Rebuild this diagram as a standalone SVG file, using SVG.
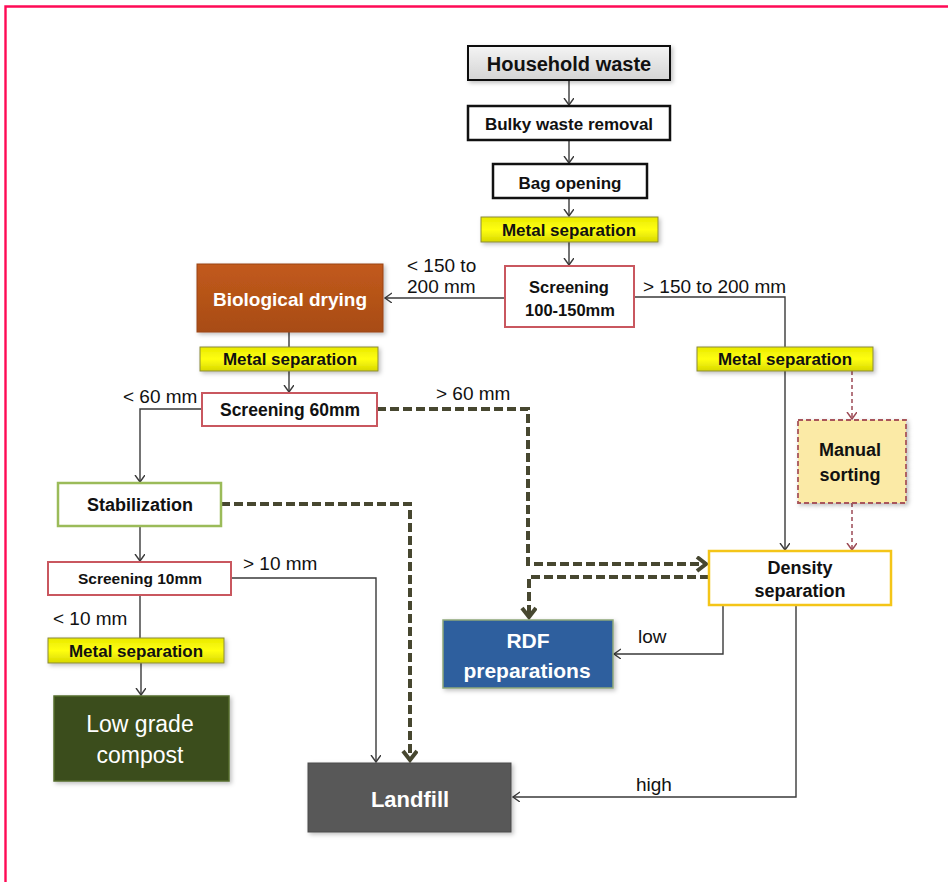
<svg xmlns="http://www.w3.org/2000/svg" width="948" height="882" viewBox="0 0 948 882">
<style>
  .t{font-family:"Liberation Sans",Arial,sans-serif;font-weight:bold;fill:#111;text-anchor:middle}
  .w{fill:#fff}
  .lbl{font-family:"Liberation Sans",Arial,sans-serif;font-size:19px;fill:#111}
  .c{fill:none;stroke:#3a3a3a;stroke-width:1.4}
  .d{fill:none;stroke:#474730;stroke-width:4;stroke-dasharray:9 4}
  .r{fill:none;stroke:#9c4a55;stroke-width:1.5;stroke-dasharray:4 3}
  .metal{fill:url(#gy);stroke:#8a8a3a;stroke-width:1}
  .scr{fill:#fff;stroke:#c9575f;stroke-width:2}
</style>
<defs>
  <linearGradient id="gy" x1="0" y1="0" x2="0" y2="1">
    <stop offset="0" stop-color="#e9e900"/>
    <stop offset="0.5" stop-color="#ffff10"/>
    <stop offset="1" stop-color="#d8d800"/>
  </linearGradient>
  <linearGradient id="gg" x1="0" y1="0" x2="0" y2="1">
    <stop offset="0" stop-color="#f4f4f4"/>
    <stop offset="1" stop-color="#d4d4d4"/>
  </linearGradient>
  <linearGradient id="gb" x1="0" y1="0" x2="0" y2="1">
    <stop offset="0" stop-color="#c25a1c"/>
    <stop offset="1" stop-color="#a84c14"/>
  </linearGradient>
  <filter id="sh" x="-10%" y="-10%" width="130%" height="140%">
    <feDropShadow dx="2" dy="2" stdDeviation="2" flood-color="#000" flood-opacity="0.25"/>
  </filter>
  <marker id="a" markerUnits="userSpaceOnUse" markerWidth="14" markerHeight="14" refX="7" refY="5" orient="auto">
    <path d="M0,0 L7,5 L0,10" fill="none" stroke="#3a3a3a" stroke-width="1.4"/>
  </marker>
  <marker id="ar" markerUnits="userSpaceOnUse" markerWidth="14" markerHeight="14" refX="7" refY="5" orient="auto">
    <path d="M0,0 L7,5 L0,10" fill="none" stroke="#9c4a55" stroke-width="1.5"/>
  </marker>
  <marker id="ad" markerUnits="userSpaceOnUse" markerWidth="20" markerHeight="22" refX="11" refY="8" orient="auto">
    <path d="M2,1 L11,8 L2,15" fill="none" stroke="#474730" stroke-width="4"/>
  </marker>
</defs>

<rect x="0" y="0" width="948" height="882" fill="#fff"/>
<path d="M5.5,882 V6.5 H948" fill="none" stroke="#ff0a55" stroke-width="2.4"/>

<g id="connectors">
  <path class="c" d="M569,80 V105" marker-end="url(#a)"/>
  <path class="c" d="M569,140 V163" marker-end="url(#a)"/>
  <path class="c" d="M569,198 V216" marker-end="url(#a)"/>
  <path class="c" d="M569,242 V265" marker-end="url(#a)"/>
  <path class="c" d="M505,298 H385" marker-end="url(#a)"/>
  <path class="c" d="M634,297 H785 V550" marker-end="url(#a)"/>
  <path class="c" d="M289,332 V347"/>
  <path class="c" d="M289,371 V392" marker-end="url(#a)"/>
  <path class="c" d="M202,409 H140 V482" marker-end="url(#a)"/>
  <path class="c" d="M140,526 V561" marker-end="url(#a)"/>
  <path class="c" d="M231,578 H376 V762" marker-end="url(#a)"/>
  <path class="c" d="M140,595 V638"/>
  <path class="c" d="M141,663 V695" marker-end="url(#a)"/>
  <path class="c" d="M723,605 V654 H614" marker-end="url(#a)"/>
  <path class="c" d="M796,605 V797 H513" marker-end="url(#a)"/>
  <path class="r" d="M852,371 V419" marker-end="url(#ar)"/>
  <path class="r" d="M852,503 V550" marker-end="url(#ar)"/>
  <path class="d" d="M377,409 H528 V564 H706" marker-end="url(#ad)"/>
  <path class="d" d="M709,577 H529 V617" marker-end="url(#ad)"/>
  <path class="d" d="M221,504 H410 V760" marker-end="url(#ad)"/>
</g>

<g id="labels">
  <text class="lbl" x="407" y="272">&lt; 150 to</text>
  <text class="lbl" x="407" y="293">200 mm</text>
  <text class="lbl" x="643" y="293">&gt; 150 to 200 mm</text>
  <text class="lbl" x="123" y="403">&lt; 60 mm</text>
  <text class="lbl" x="436" y="400">&gt; 60 mm</text>
  <text class="lbl" x="243" y="570">&gt; 10 mm</text>
  <text class="lbl" x="53" y="625">&lt; 10 mm</text>
  <text class="lbl" x="638" y="643">low</text>
  <text class="lbl" x="636" y="791">high</text>
</g>

<g id="household-waste">
  <rect x="468" y="46" width="202" height="34" fill="url(#gg)" stroke="#111" stroke-width="2" filter="url(#sh)"/>
  <text class="t" x="569" y="71" font-size="20">Household waste</text>
</g>
<g id="bulky-waste-removal">
  <rect x="468" y="106" width="202" height="34" fill="#fff" stroke="#111" stroke-width="2.5"/>
  <text class="t" x="569" y="130" font-size="17">Bulky waste removal</text>
</g>
<g id="bag-opening">
  <rect x="493" y="164" width="154" height="34" fill="#fff" stroke="#111" stroke-width="2.5"/>
  <text class="t" x="570" y="189" font-size="17">Bag opening</text>
</g>
<g id="metal-separation-1">
  <rect class="metal" x="481" y="217" width="177" height="25" filter="url(#sh)"/>
  <text class="t" x="569" y="236" font-size="17">Metal separation</text>
</g>
<g id="screening-100-150">
  <rect class="scr" x="505" y="266" width="129" height="61"/>
  <text class="t" x="569" y="293" font-size="16.5">Screening</text>
  <text class="t" x="570" y="316" font-size="16.5">100-150mm</text>
</g>
<g id="biological-drying">
  <rect x="197" y="264" width="186" height="68" fill="url(#gb)" stroke="#9a4512" stroke-width="1" filter="url(#sh)"/>
  <text class="t w" x="290" y="306" font-size="19">Biological drying</text>
</g>
<g id="metal-separation-2">
  <rect class="metal" x="200" y="347" width="178" height="24" filter="url(#sh)"/>
  <text class="t" x="290" y="365" font-size="17">Metal separation</text>
</g>
<g id="screening-60">
  <rect class="scr" x="202" y="393" width="175" height="33"/>
  <text class="t" x="290" y="416" font-size="17.5">Screening 60mm</text>
</g>
<g id="metal-separation-3">
  <rect class="metal" x="697" y="347" width="176" height="24" filter="url(#sh)"/>
  <text class="t" x="785" y="365" font-size="17">Metal separation</text>
</g>
<g id="manual-sorting">
  <rect x="798" y="420" width="108" height="83" fill="#fbeaa6" stroke="#a8555a" stroke-width="1.8" stroke-dasharray="5 3" filter="url(#sh)"/>
  <text class="t" x="850" y="456" font-size="18">Manual</text>
  <text class="t" x="850" y="481" font-size="18">sorting</text>
</g>
<g id="stabilization">
  <rect x="58" y="483" width="163" height="43" fill="#fff" stroke="#9bbb59" stroke-width="2.5"/>
  <text class="t" x="140" y="511" font-size="18">Stabilization</text>
</g>
<g id="screening-10">
  <rect class="scr" x="48" y="562" width="183" height="33"/>
  <text class="t" x="140" y="584" font-size="15.5">Screening 10mm</text>
</g>
<g id="metal-separation-4">
  <rect class="metal" x="48" y="638" width="176" height="25" filter="url(#sh)"/>
  <text class="t" x="136" y="657" font-size="17">Metal separation</text>
</g>
<g id="low-grade-compost">
  <rect x="54" y="696" width="175" height="85" fill="#3b4d1b" stroke="#566d2e" stroke-width="1.5" filter="url(#sh)"/>
  <text x="140" y="732" font-family="Liberation Sans,Arial,sans-serif" font-size="23" fill="#fff" text-anchor="middle">Low grade</text>
  <text x="140" y="763" font-family="Liberation Sans,Arial,sans-serif" font-size="23" fill="#fff" text-anchor="middle">compost</text>
</g>
<g id="density-separation">
  <rect x="709" y="551" width="182" height="54" fill="#fff" stroke="#f4c518" stroke-width="2.5"/>
  <text class="t" x="800" y="574" font-size="18">Density</text>
  <text class="t" x="800" y="597" font-size="18">separation</text>
</g>
<g id="rdf-preparations">
  <rect x="443" y="620" width="170" height="68" fill="#2e5e9e" stroke="#8fa87a" stroke-width="1.5" filter="url(#sh)"/>
  <text class="t w" x="528" y="648" font-size="21">RDF</text>
  <text class="t w" x="527" y="678" font-size="21">preparations</text>
</g>
<g id="landfill">
  <rect x="308" y="763" width="203" height="69" fill="#595959" stroke="#4a4a4a" stroke-width="1" filter="url(#sh)"/>
  <text class="t w" x="410" y="807" font-size="22">Landfill</text>
</g>
</svg>
